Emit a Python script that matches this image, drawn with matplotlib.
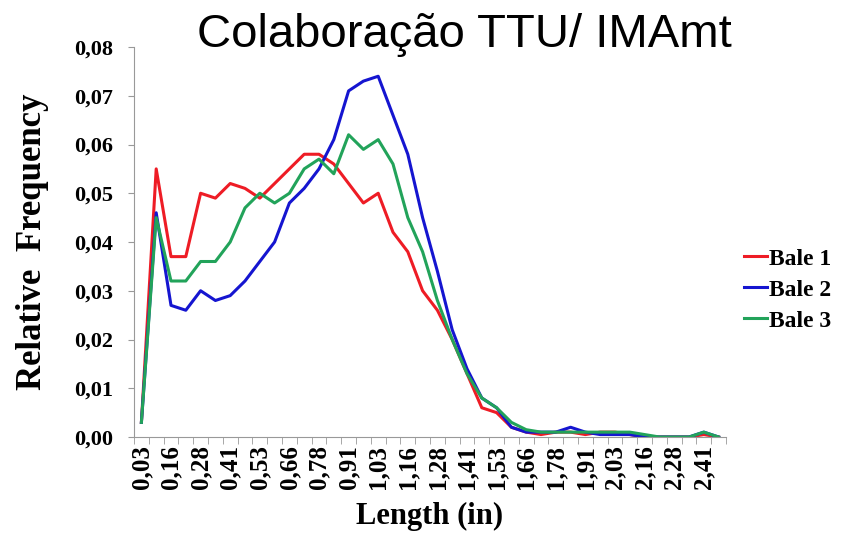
import matplotlib.pyplot as plt
from matplotlib.ticker import FuncFormatter, FixedLocator

# length classes (in), 1/16 inch bins
lengths = ['0,03', '0,09', '0,16', '0,22', '0,28', '0,34', '0,41', '0,47', '0,53', '0,59',
           '0,66', '0,72', '0,78', '0,84', '0,91', '0,97', '1,03', '1,09', '1,16', '1,22',
           '1,28', '1,34', '1,41', '1,47', '1,53', '1,59', '1,66', '1,72', '1,78', '1,84',
           '1,91', '1,97', '2,03', '2,09', '2,16', '2,22', '2,28', '2,34', '2,41', '2,47']

bale1 = [0.003, 0.055, 0.037, 0.037, 0.050, 0.049, 0.052, 0.051, 0.049, 0.052,
         0.055, 0.058, 0.058, 0.056, 0.052, 0.048, 0.050, 0.042, 0.038, 0.030,
         0.026, 0.020, 0.013, 0.006, 0.005, 0.002, 0.001, 0.0005, 0.001, 0.001,
         0.0005, 0.001, 0.001, 0.0005, 0.0, 0.0, 0.0, 0.0, 0.0005, 0.0]

bale2 = [0.003, 0.046, 0.027, 0.026, 0.030, 0.028, 0.029, 0.032, 0.036, 0.040,
         0.048, 0.051, 0.055, 0.061, 0.071, 0.073, 0.074, 0.066, 0.058, 0.045,
         0.034, 0.022, 0.014, 0.008, 0.006, 0.002, 0.001, 0.001, 0.001, 0.002,
         0.001, 0.0005, 0.0005, 0.0005, 0.0, 0.0, 0.0, 0.0, 0.001, 0.0]

bale3 = [0.003, 0.045, 0.032, 0.032, 0.036, 0.036, 0.040, 0.047, 0.050, 0.048,
         0.050, 0.055, 0.057, 0.054, 0.062, 0.059, 0.061, 0.056, 0.045, 0.038,
         0.028, 0.020, 0.013, 0.008, 0.006, 0.003, 0.0015, 0.001, 0.001, 0.001,
         0.001, 0.001, 0.001, 0.001, 0.0005, 0.0, 0.0, 0.0, 0.001, 0.0]

serif = 'Liberation Serif'

fig = plt.figure(figsize=(8.42, 5.37), dpi=100)
ax = fig.add_axes([134 / 842, 1 - 437 / 537, 592 / 842, 390 / 537])

x = range(len(lengths))
ax.plot(x, bale1, color='#ee1c25', linewidth=2.2, label='Bale 1')
ax.plot(x, bale2, color='#1515d0', linewidth=2.2, label='Bale 2')
ax.plot(x, bale3, color='#22a35a', linewidth=2.2, label='Bale 3')

ax.set_xlim(-0.5, len(lengths) - 0.5)
ax.set_ylim(0, 0.08)
ax.set_yticks([0.0, 0.01, 0.02, 0.03, 0.04, 0.05, 0.06, 0.07, 0.08])
ax.yaxis.set_major_formatter(FuncFormatter(lambda v, p: ('%.2f' % v).replace('.', ',')))

# labels every other class, tick marks between classes
ax.set_xticks(list(range(0, len(lengths), 2)))
ax.set_xticklabels(lengths[::2], rotation=90)
ax.xaxis.set_minor_locator(FixedLocator([i - 0.5 for i in range(len(lengths) + 1)]))
ax.tick_params(axis='x', which='major', length=0, pad=6)
ax.tick_params(axis='x', which='minor', length=5, color='#999999')
ax.tick_params(axis='y', length=4, color='#999999', pad=11)

for lab in ax.get_xticklabels():
    lab.set_fontfamily(serif)
    lab.set_fontweight('bold')
    lab.set_fontsize(18)
for lab in ax.get_yticklabels():
    lab.set_fontfamily(serif)
    lab.set_fontweight('bold')
    lab.set_fontsize(16)

for s in ['top', 'right']:
    ax.spines[s].set_visible(False)
for s in ['left', 'bottom']:
    ax.spines[s].set_color('#999999')

ax.set_xlabel('Length (in)', fontfamily=serif, fontweight='bold', fontsize=22, labelpad=9)
ax.set_ylabel('Relative  Frequency', fontfamily=serif, fontweight='bold', fontsize=25, labelpad=18)

fig.text(0.552, 0.935, 'Colaboração TTU/ IMAmt', fontfamily='Liberation Sans',
         fontsize=34, ha='center', va='center')

leg = ax.legend(loc='center left', bbox_to_anchor=(1.03, 0.377), frameon=False,
                borderaxespad=0, borderpad=0,
                prop={'family': serif, 'weight': 'bold', 'size': 17},
                handlelength=1.0, handletextpad=0.05, labelspacing=0.4)

fig.savefig('out.png', dpi=100)
